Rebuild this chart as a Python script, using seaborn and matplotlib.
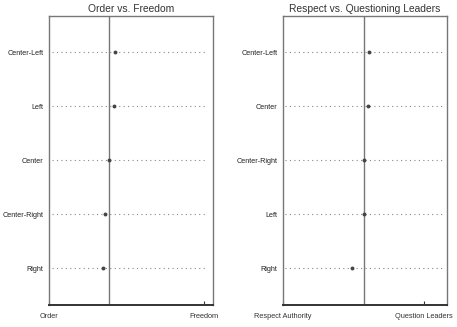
import matplotlib
matplotlib.use("Agg")
import matplotlib.pyplot as plt
import seaborn as sns
import pandas as pd

sns.set_theme(style="white")
plt.rcParams['font.family'] = ['Liberation Sans', 'DejaVu Sans']

# Left panel: Order vs. Freedom
left_title = "Order vs. Freedom"
left_groups = ["Center-Left", "Left", "Center", "Center-Right", "Right"]
left_values = [0.426, 0.419, 0.385, 0.359, 0.348]
left_ref = 0.387
left_ticklabels = ["Order", "Freedom"]

# Right panel: Respect vs. Questioning Leaders
right_title = "Respect vs. Questioning Leaders"
right_groups = ["Center-Left", "Center", "Center-Right", "Left", "Right"]
right_values = [0.612, 0.603, 0.574, 0.577, 0.487]
right_ref = 0.572
right_ticklabels = ["Respect Authority", "Question Leaders"]

fig = plt.figure(figsize=(4.57, 3.27), dpi=100)
axL = fig.add_axes([49/457, 22/327, 164/457, 289/327])
axR = fig.add_axes([283/457, 22/327, 164/457, 289/327])

def panel(ax, title, groups, values, ref, ticklabels, xmax, line_lo, line_hi):
    df = pd.DataFrame({"group": groups, "value": values})
    n = len(groups)
    ax.hlines(range(n), line_lo, line_hi, colors="#888888", linestyles=(0, (1, 3)), linewidth=0.8, zorder=1)
    ax.axvline(ref, color="#777777", linewidth=1.0, zorder=2)
    sns.stripplot(data=df, x="value", y="group", order=groups, jitter=False,
                  color="#444444", size=2.8, ax=ax, zorder=3)
    ax.set_xlim(0, xmax)
    ax.set_ylim(n - 1 + 0.68, -0.67)
    ax.set_xticks([0, 1])
    ax.set_xticklabels(ticklabels, fontsize=5.3, color="#333333")
    ax.tick_params(axis="x", direction="in", length=3, width=0.8, color="#333333", pad=6, bottom=True)
    ax.tick_params(axis="y", length=0, labelsize=5.2, labelcolor="#222222", pad=4)
    ax.set_xlabel("")
    ax.set_ylabel("")
    ax.set_title(title, fontsize=7.4, color="#333333", pad=3)
    for s in ["left", "right", "top"]:
        ax.spines[s].set_color("#777777")
        ax.spines[s].set_linewidth(1.0)
    ax.spines["bottom"].set_color("#333333")
    ax.spines["bottom"].set_linewidth(1.4)

panel(axL, left_title, left_groups, left_values, left_ref, left_ticklabels, 1.058, 0.02, 1.02)
panel(axR, right_title, right_groups, right_values, right_ref, right_ticklabels, 1.163, 0.012, 1.15)

fig.savefig("out.png", dpi=100)
